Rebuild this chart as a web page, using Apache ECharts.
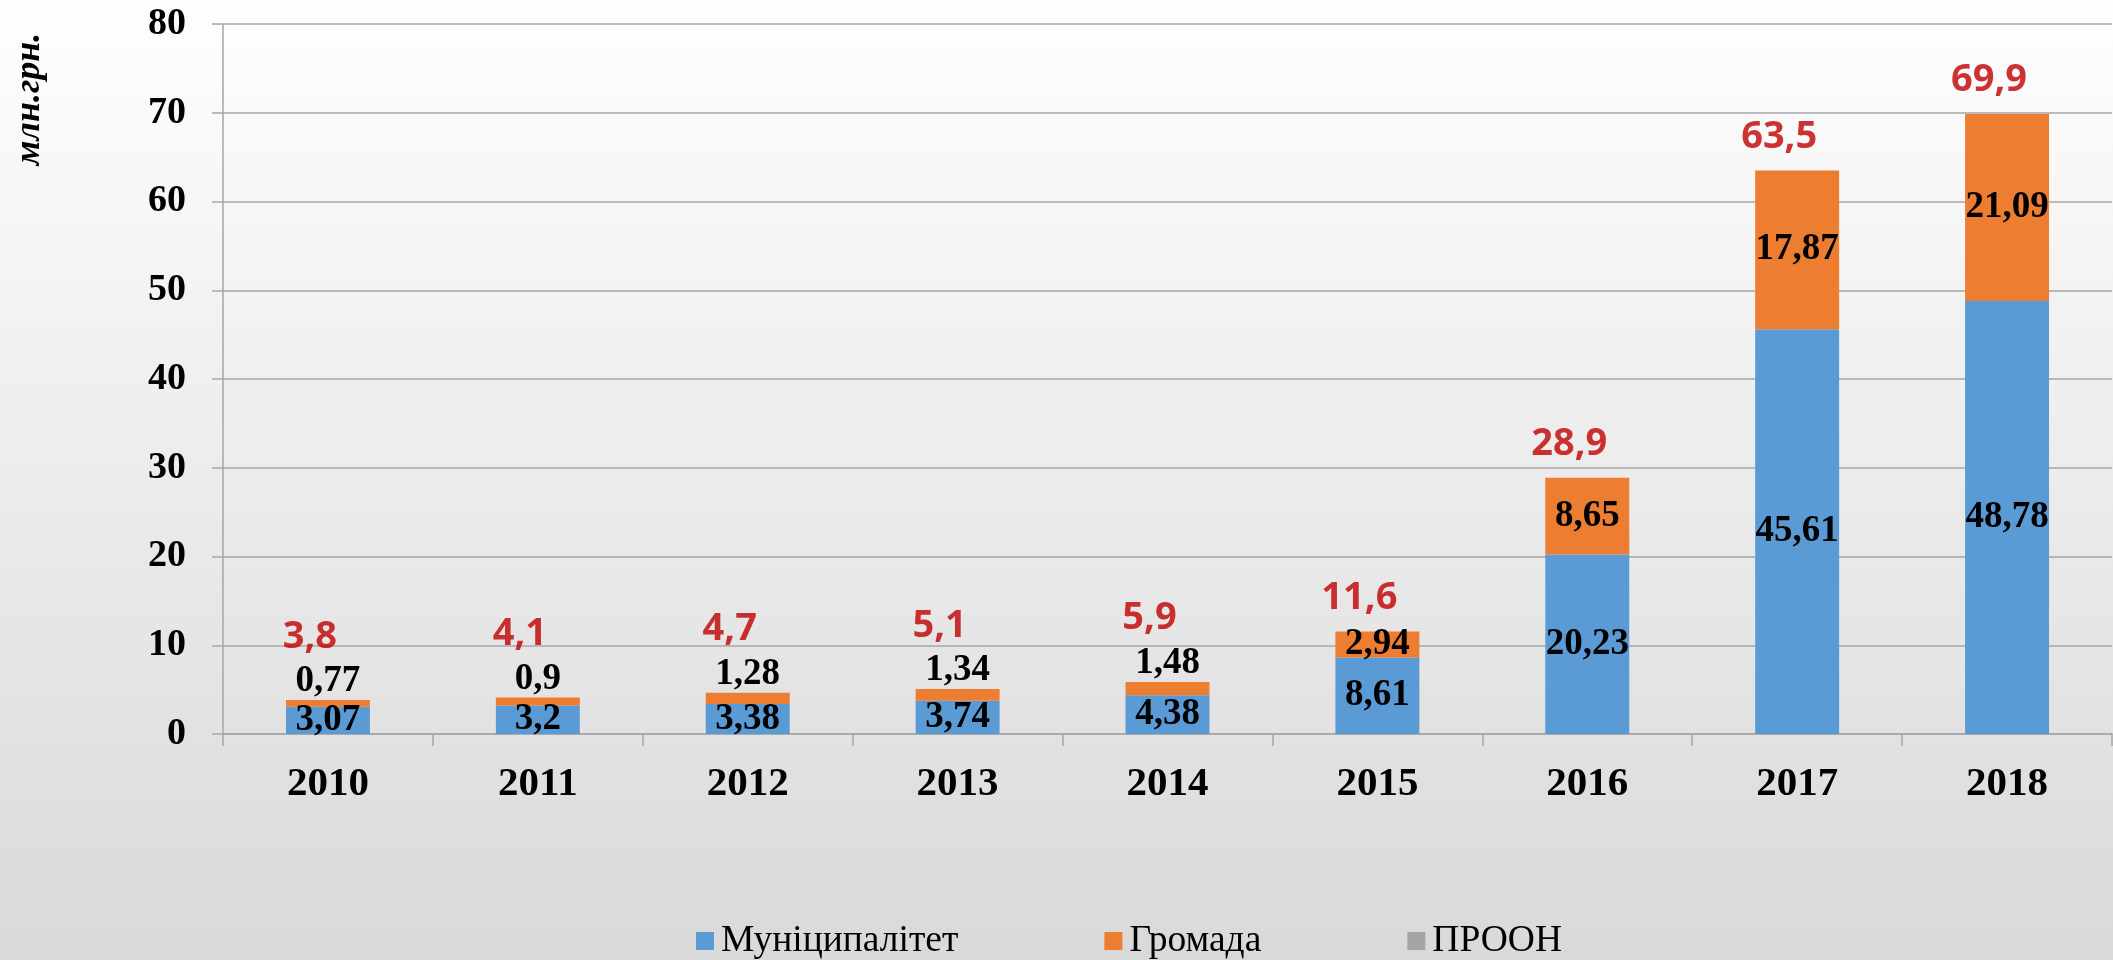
<!DOCTYPE html>
<html>
<head>
<meta charset="utf-8">
<script src="https://cdn.jsdelivr.net/npm/echarts@6/dist/echarts.min.js"></script>
<style>
  html, body { margin: 0; padding: 0; }
  #chart { width: 2113px; height: 960px; }
</style>
</head>
<body>
<div id="chart"></div>
<script>
// funding by year, mln UAH
const years = ['2010', '2011', '2012', '2013', '2014', '2015', '2016', '2017', '2018']
const municipality = [3.07, 3.2, 3.38, 3.74, 4.38, 8.61, 20.23, 45.61, 48.78]
const community = [0.77, 0.9, 1.28, 1.34, 1.48, 2.94, 8.65, 17.87, 21.09]
const undp = [0, 0, 0, 0, 0, 0, 0, 0, 0]
const totals = [3.8, 4.1, 4.7, 5.1, 5.9, 11.6, 28.9, 63.5, 69.9]
const yTicks = { min: 0, max: 80, interval: 10 }

const seriesNames = ['Муніципалітет', 'Громада', 'ПРООН']
const colors = ['#5B9BD5', '#ED7D31', '#A5A5A5']

const comma = v => String(v).replace('.', ',')
const serif = '"Liberation Serif", "Times New Roman", serif'

// small segments carry their label above the bar
const isSmall = v => v < 2

const valueLabel = {
  show: true,
  color: '#000',
  fontFamily: serif,
  fontWeight: 'bold',
  fontSize: 37,
  formatter: p => comma(p.value)
}

let myChart = echarts.init(document.getElementById('chart'))
myChart.setOption({
  backgroundColor: {
    type: 'linear', x: 0, y: 0, x2: 0, y2: 1,
    colorStops: [{ offset: 0, color: '#FEFEFE' }, { offset: 1, color: '#D9D9D9' }]
  },
  animation: false,
  color: colors,
  grid: { left: 223, right: 1, top: 24, bottom: 226 },
  legend: {
    data: seriesNames,
    left: 691,
    top: 917,
    icon: 'rect',
    itemWidth: 18,
    itemHeight: 18,
    itemGap: 146,
    textStyle: { fontFamily: serif, fontSize: 37.5, color: '#000', padding: [0, 0, 0, 2] }
  },
  graphic: [{
    type: 'text',
    x: 30,
    y: 99,
    rotation: Math.PI / 2,
    style: {
      text: 'млн.грн.',
      fontFamily: serif,
      fontStyle: 'italic',
      fontWeight: 'bold',
      fontSize: 36,
      fill: '#000',
      align: 'center',
      verticalAlign: 'middle'
    }
  }],
  xAxis: {
    type: 'category',
    data: years,
    axisLine: { lineStyle: { color: '#A6A6A6', width: 1.5 } },
    axisTick: { show: true, length: 12, interval: 0, lineStyle: { color: '#A6A6A6', width: 1.5 } },
    axisLabel: { margin: 30, color: '#000', fontFamily: serif, fontWeight: 'bold', fontSize: 41 }
  },
  yAxis: {
    type: 'value',
    min: yTicks.min,
    max: yTicks.max,
    interval: yTicks.interval,
    axisLine: { show: true, lineStyle: { color: '#A6A6A6', width: 1.5 } },
    axisTick: { show: true, length: 11, lineStyle: { color: '#A6A6A6', width: 1.5 } },
    splitLine: { lineStyle: { color: '#A6A6A6', width: 1.5 } },
    axisLabel: { margin: 37, color: '#000', fontFamily: serif, fontWeight: 'bold', fontSize: 38 }
  },
  series: [
    {
      name: seriesNames[0],
      type: 'bar',
      stack: 'total',
      barWidth: '40%',
      data: municipality,
      label: Object.assign({ position: 'inside' }, valueLabel)
    },
    {
      name: seriesNames[1],
      type: 'bar',
      stack: 'total',
      barWidth: '40%',
      data: community.map(v => isSmall(v)
        ? { value: v, label: { position: 'top', distance: 0 } }
        : v),
      label: Object.assign({ position: 'inside' }, valueLabel)
    },
    {
      name: seriesNames[2],
      type: 'bar',
      stack: 'total',
      barWidth: '40%',
      data: undp
    },
    {
      name: 'totals',
      type: 'scatter',
      symbolSize: 2,
      clip: false,
      z: 5,
      itemStyle: { color: 'rgba(0,0,0,0)' },
      data: totals.map((v, i) => ({
        value: v,
        label: { offset: [-18, isSmall(community[i]) ? -63 : -33] }
      })),
      label: {
        show: true,
        position: 'inside',
        color: '#C00000',
        fontFamily: '"Noto Sans", "Open Sans", sans-serif',
        fontWeight: 'bold',
        fontSize: 38,
        formatter: p => comma(p.value)
      }
    }
  ]
})
</script>
</body>
</html>
